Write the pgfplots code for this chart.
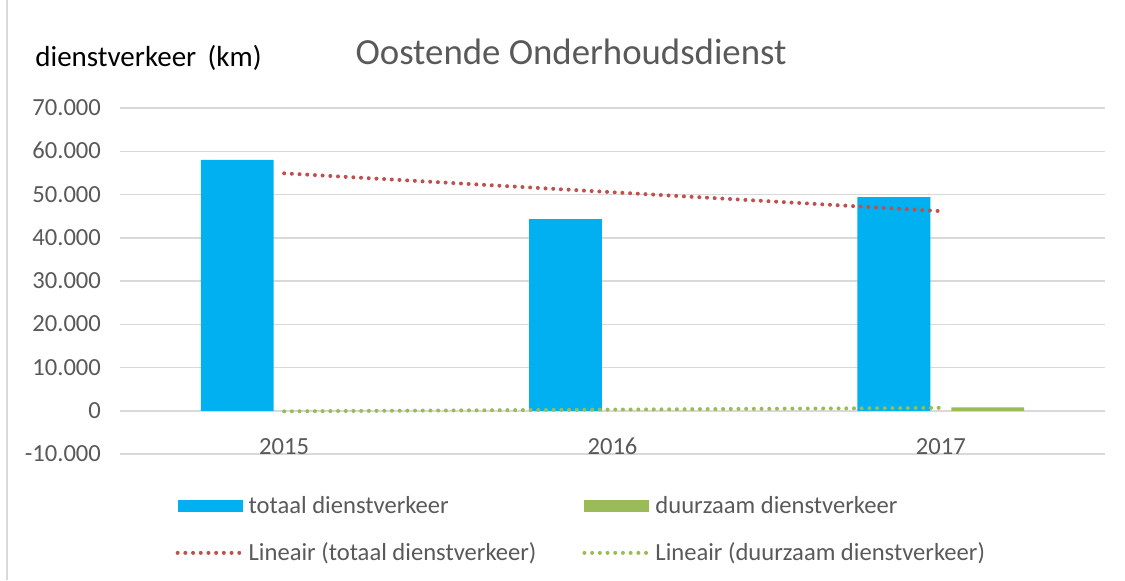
\documentclass[border=0pt]{standalone}
\usepackage{pgfplots}
\pgfplotsset{compat=1.18}
\usepackage{fontspec}
\setmainfont{Carlito}

\definecolor{totaalBlue}{HTML}{00B0F0}
\definecolor{duurzaamGreen}{HTML}{9BBB59}
\definecolor{trendRed}{HTML}{C0504D}
\definecolor{gridGray}{HTML}{D9D9D9}
\definecolor{labelGray}{HTML}{595959}

\tikzset{trenddots/.style={line width=2pt, line cap=round, dash pattern=on 0pt off 3.85pt}}

\begin{document}
\begin{tikzpicture}
% 1 px of the reference = 0.5pt; axis box south west = px (120,454)
\useasboundingbox (-60pt,-63pt) rectangle (502.5pt,227pt);
\draw[gridGray, line width=1.2pt] (-56.5pt,-63pt) -- (-56.5pt,227pt);

\begin{axis}[
    at={(0,0)}, anchor=south west,
    scale only axis,
    width=492.5pt, height=173pt,
    xmin=0.5, xmax=3.5,
    ymin=-10000, ymax=70000,
    scaled y ticks=false,
    axis line style={draw=none},
    major tick length=0pt,
    xtick={1,2,3},
    xticklabels={2015,2016,2017},
    ytick={-10000,0,10000,20000,30000,40000,50000,60000,70000},
    yticklabels={-10.000,0,10.000,20.000,30.000,40.000,50.000,60.000,70.000},
    ymajorgrids=true,
    grid style={gridGray, line width=0.75pt},
    tick label style={font=\fontsize{12.3}{14}\selectfont, text=labelGray},
    typeset ticklabels with strut,
    yticklabel style={xshift=-6pt, yshift=-1pt},
    xticklabel style={yshift=13pt},
    legend columns=2,
    legend cell align=left,
    legend style={draw=none, fill=none, at={(0.05,-0.098)}, anchor=north west,
        font=\fontsize{12.3}{14}\selectfont, text=labelGray,
        /tikz/every even column/.append style={column sep=21pt},
        row sep=9pt},
]

\addplot[ybar, bar width=0.222, bar shift=-0.143, fill=totaalBlue, draw=none,
    legend image code/.code={\fill[totaalBlue] (0pt,-3pt) rectangle (32.5pt,3pt);}]
    coordinates {(1,58000) (2,44300) (3,49400)};
\addlegendentry{totaal dienstverkeer}

\addplot[ybar, bar width=0.222, bar shift=0.143, fill=duurzaamGreen, draw=none,
    legend image code/.code={\fill[duurzaamGreen] (0pt,-3pt) rectangle (32.5pt,3pt);}]
    coordinates {(1,0) (2,0) (3,800)};
\addlegendentry{duurzaam dienstverkeer}

% linear trend lines as Excel drew them
\addplot[trendRed, trenddots,
    legend image code/.code={\draw[trendRed, trenddots] (0pt,0pt) -- (32.5pt,0pt);}]
    coordinates {(1,54900) (3,46150)};
\addlegendentry{Lineair (totaal dienstverkeer)}

\addplot[duurzaamGreen, trenddots,
    legend image code/.code={\draw[duurzaamGreen, trenddots] (0pt,0pt) -- (32.5pt,0pt);}]
    coordinates {(1,-130) (3,670)};
\addlegendentry{Lineair (duurzaam dienstverkeer)}

\end{axis}

\node[font=\fontsize{18.4}{22}\selectfont, text=labelGray] at (225.5pt,201pt) {Oostende Onderhoudsdienst};
\node[font=\fontsize{14.5}{17}\selectfont, anchor=west, inner sep=0pt] at (-42.5pt,198pt) {dienstverkeer\ \,(km)};
\end{tikzpicture}
\end{document}
